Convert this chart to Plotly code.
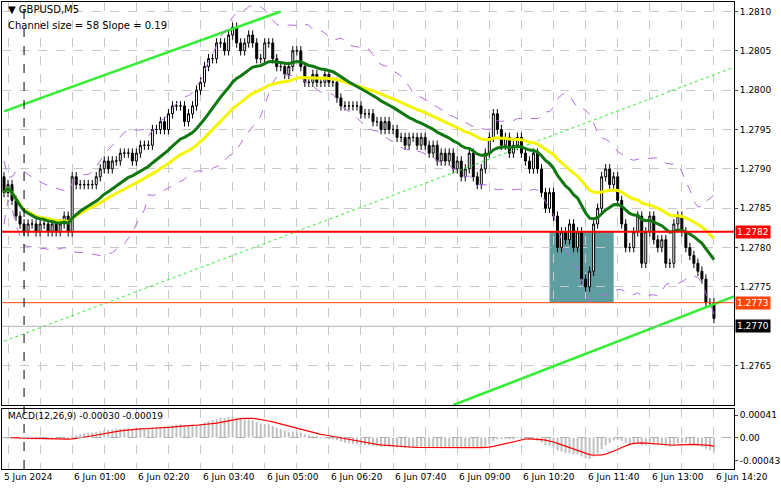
import numpy as np
import pandas as pd
import plotly.graph_objects as go

# GBPUSD M5 closes, first bar = 5 Jun 23:35
closes = [
    1.2787, 1.2788, 1.2786, 1.2784, 1.2783, 1.2782, 1.2783, 1.2783, 1.2782, 1.2783,
    1.2783, 1.2782, 1.2783, 1.2782, 1.2783, 1.2784, 1.2782, 1.2789, 1.2788, 1.2788,
    1.2788, 1.2788, 1.2788, 1.2789, 1.2790, 1.2791, 1.2790, 1.2791, 1.2791, 1.2792,
    1.2792, 1.2792, 1.2791, 1.2792, 1.2793, 1.2793, 1.2793, 1.2795, 1.2795, 1.2796,
    1.2795, 1.2797, 1.2798, 1.2798, 1.2798, 1.2796, 1.2797, 1.2798, 1.2800, 1.2801,
    1.2803, 1.2804, 1.2804, 1.2806, 1.2806, 1.2805, 1.2807, 1.2808, 1.2806, 1.2805,
    1.2806, 1.2807, 1.2806, 1.2804, 1.2804, 1.2806, 1.2806, 1.2804, 1.2803, 1.2803,
    1.2802, 1.2803, 1.2805, 1.2805, 1.2803, 1.2801, 1.2801, 1.2802, 1.2801, 1.2801,
    1.2802, 1.2801, 1.2801, 1.2799, 1.2798, 1.2798, 1.2798, 1.2798, 1.2798, 1.2797,
    1.2797, 1.2797, 1.2796, 1.2796, 1.2795, 1.2796, 1.2795, 1.2795, 1.2794, 1.2794,
    1.2793, 1.2794, 1.2794, 1.2793, 1.2794, 1.2793, 1.2792, 1.2793, 1.2791, 1.2792,
    1.2791, 1.2792, 1.2790, 1.2791, 1.2789, 1.2790, 1.2792, 1.2789, 1.2788, 1.2790,
    1.2792, 1.2794, 1.2797, 1.2795, 1.2793, 1.2794, 1.2792, 1.2793, 1.2794, 1.2792,
    1.2791, 1.2790, 1.2792, 1.2790, 1.2787, 1.2785, 1.2787, 1.2784, 1.2780, 1.2782,
    1.2781, 1.2783, 1.2780, 1.2782, 1.2776, 1.2775, 1.2777, 1.2783, 1.2785, 1.2789,
    1.2790, 1.2788, 1.2789, 1.2786, 1.2783, 1.2780, 1.2780, 1.2782, 1.2784, 1.2778,
    1.2782, 1.2784, 1.2781, 1.2780, 1.2781, 1.2778, 1.2778, 1.2783, 1.2784, 1.2782,
    1.2780, 1.2779, 1.2778, 1.2777, 1.2776, 1.2773, 1.2773, 1.2771,
]
first_open = 1.2789
wick = 0.00006

x_labels = ["5 Jun 2024", "6 Jun 01:00", "6 Jun 02:20", "6 Jun 03:40", "6 Jun 05:00",
            "6 Jun 06:20", "6 Jun 07:40", "6 Jun 09:00", "6 Jun 10:20", "6 Jun 11:40",
            "6 Jun 13:00", "6 Jun 14:20"]
x_label_bars = [-0.5, 17, 33, 49, 65, 81, 97, 113, 129, 145, 161, 177]

price_ticks = [1.2765, 1.2775, 1.2780, 1.2785, 1.2790, 1.2795, 1.2800, 1.2805, 1.2810]
macd_ticks = [0.00041, 0.0, -0.00043]
macd_tick_text = ["0.00041", "0.00", "-0.00043"]

support_level = 1.2782
target_level = 1.2773
last_price = 1.2770
zone = [136, 152, 1.2773, 1.2782]  # bar from, bar to, price low, price high

# channel lines: (bar0, price0, bar1, price1)
ch_upper = [0, 1.27973, 69, 1.2810]
ch_mid = [0, 1.27681, 182, 1.28029]
ch_lower = [112, 1.2760, 182, 1.27738]

n = len(closes)
idx = np.arange(n)
c = pd.Series(closes)
o = pd.Series([first_open] + closes[:-1])
hi = np.maximum(o, c) + wick
lo = np.minimum(o, c) - wick

ma_fast = c.ewm(span=21).mean()
ma_slow = c.ewm(span=40).mean()
bb_mid = c.rolling(20, min_periods=1).mean()
bb_sd = c.rolling(20, min_periods=2).std().fillna(0.0002)
bb_up = bb_mid + 2 * bb_sd
bb_dn = bb_mid - 2 * bb_sd

macd = c.ewm(span=12).mean() - c.ewm(span=26).mean()
signal = macd.rolling(9, min_periods=1).mean()

fig = go.Figure()

# channel lines
fig.add_trace(go.Scatter(x=[ch_upper[0], ch_upper[2]], y=[ch_upper[1], ch_upper[3]], mode="lines",
                         line=dict(color="#33ee33", width=2.5), hoverinfo="skip"))
fig.add_trace(go.Scatter(x=[ch_mid[0], ch_mid[2]], y=[ch_mid[1], ch_mid[3]], mode="lines",
                         line=dict(color="#33ee33", width=1, dash="dot"), hoverinfo="skip"))
fig.add_trace(go.Scatter(x=[ch_lower[0], ch_lower[2]], y=[ch_lower[1], ch_lower[3]], mode="lines",
                         line=dict(color="#33ee33", width=2.5), hoverinfo="skip"))

# bollinger bands
for band in (bb_up, bb_dn):
    fig.add_trace(go.Scatter(x=idx, y=band, mode="lines",
                             line=dict(color="#b36be0", width=1, dash="dash"), hoverinfo="skip"))

fig.add_trace(go.Candlestick(x=idx, open=o, high=hi, low=lo, close=c,
                             increasing=dict(fillcolor="white", line=dict(color="black", width=1)),
                             decreasing=dict(fillcolor="black", line=dict(color="black", width=1)),
                             whiskerwidth=0))

fig.add_trace(go.Scatter(x=idx, y=ma_slow, mode="lines", line=dict(color="#f5f500", width=3)))
fig.add_trace(go.Scatter(x=idx, y=ma_fast, mode="lines", line=dict(color="#117711", width=3)))

# MACD
fig.add_trace(go.Bar(x=idx, y=macd, marker_color="#c0c0c0", marker_line_width=0,
                     width=0.5, xaxis="x2", yaxis="y2"))
fig.add_trace(go.Scatter(x=idx, y=signal, mode="lines", line=dict(color="#ff0000", width=1.2),
                         xaxis="x2", yaxis="y2"))

shapes = [
    dict(type="rect", xref="x", yref="y", x0=zone[0], x1=zone[1], y0=zone[2], y1=zone[3],
         fillcolor="#5f9ea0", line_width=0, layer="below"),
    dict(type="line", xref="paper", yref="y", x0=0, x1=1, y0=support_level, y1=support_level,
         line=dict(color="#ff0000", width=2)),
    dict(type="line", xref="paper", yref="y", x0=0, x1=1, y0=target_level, y1=target_level,
         line=dict(color="#ff4500", width=1)),
    dict(type="line", xref="paper", yref="y", x0=0, x1=1, y0=last_price, y1=last_price,
         line=dict(color="#b0b0b0", width=1)),
    dict(type="line", xref="x", yref="paper", x0=5, x1=5, y0=0, y1=1,
         line=dict(color="black", width=1, dash="dash")),
    dict(type="line", xref="paper", yref="y2", x0=0, x1=1, y0=0, y1=0,
         line=dict(color="#b0b0b0", width=1, dash="dash")),
]

annotations = [
    dict(xref="paper", yref="paper", x=0.005, y=1.0, xanchor="left", yanchor="top",
         text="▼ GBPUSD,M5", showarrow=False, font=dict(size=10, color="black")),
    dict(xref="paper", yref="paper", x=0.005, y=0.965, xanchor="left", yanchor="top",
         text="Channel size = 58 Slope = 0.19", showarrow=False, font=dict(size=10, color="black")),
    dict(xref="paper", yref="paper", x=0.005, y=0.128, xanchor="left", yanchor="top",
         text="MACD(12,26,9) -0.00030 -0.00019", showarrow=False, font=dict(size=9, color="black")),
]
for val, bg, fg in [(support_level, "#ff0000", "white"), (target_level, "#ff4500", "white"),
                    (last_price, "black", "white")]:
    annotations.append(dict(xref="paper", yref="y", x=1.0, y=val, xanchor="left", yanchor="middle",
                            text=f"{val:.4f}", showarrow=False, bgcolor=bg, xshift=1,
                            font=dict(size=9, color=fg), borderpad=1))
for b, t in zip(x_label_bars, x_labels):
    annotations.append(dict(xref="x", yref="paper", x=b, y=0, xanchor="left", yanchor="top",
                            text=t, showarrow=False, yshift=-1, font=dict(size=9, color="black")))

ax = dict(range=[-0.5, 182], showgrid=True, gridcolor="#c8c8c8", griddash="dash",
          tickvals=list(range(1, 182, 8)), showticklabels=False, showline=True, linecolor="black",
          mirror=True, zeroline=False, rangeslider=dict(visible=False))

fig.update_layout(
    width=781, height=489,
    margin=dict(l=1, r=45, t=1, b=20),
    paper_bgcolor="white", plot_bgcolor="white",
    showlegend=False,
    font=dict(family="DejaVu Sans", size=9, color="black"),
    xaxis=dict(ax, domain=[0, 1], anchor="y"),
    xaxis2=dict(ax, domain=[0, 1], anchor="y2", matches="x"),
    yaxis=dict(domain=[0.137, 1], range=[1.2760, 1.28112], side="right", tickvals=price_ticks,
               tickformat=".4f", showgrid=True, gridcolor="#c8c8c8", griddash="dash",
               showline=True, linecolor="black", mirror=True, zeroline=False, ticks="outside",
               ticklen=3),
    yaxis2=dict(domain=[0, 0.128], range=[-0.00058, 0.00052], side="right", tickvals=macd_ticks,
                ticktext=macd_tick_text, showgrid=False, showline=True, linecolor="black",
                mirror=True, zeroline=False, ticks="outside", ticklen=3),
    bargap=0.5,
    shapes=shapes,
    annotations=annotations,
)

fig.write_html("out.html", config={"displayModeBar": False},
               post_script="document.body.style.margin='0';")
